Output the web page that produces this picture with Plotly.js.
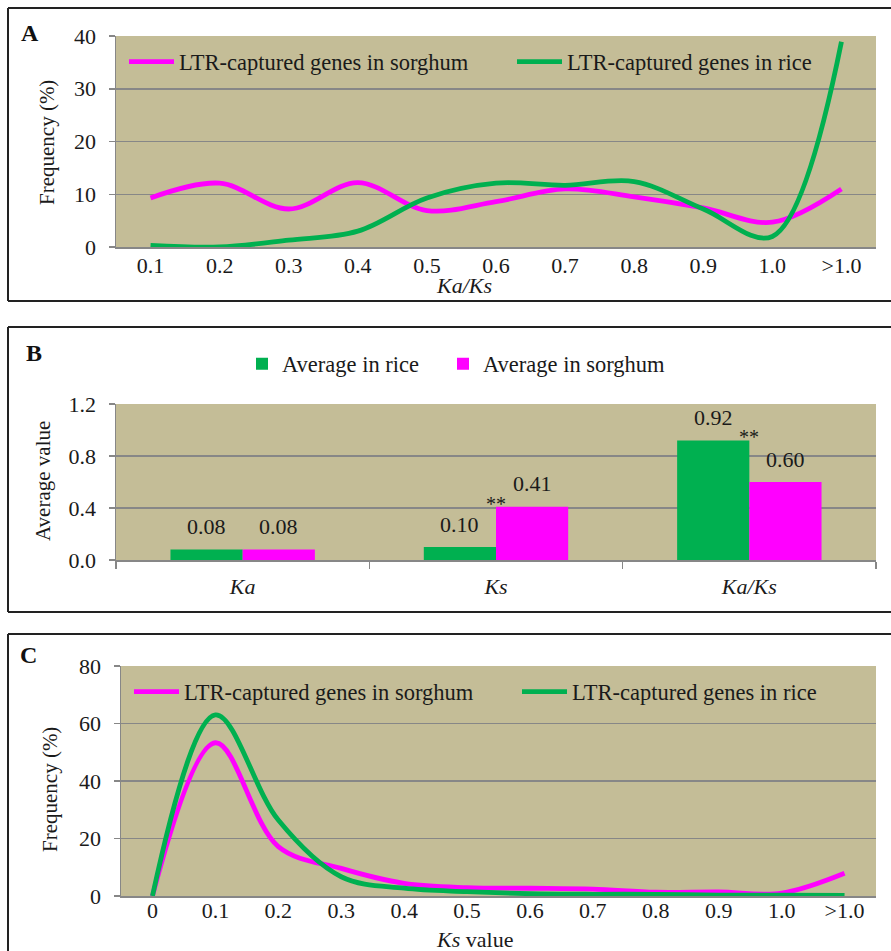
<!DOCTYPE html>
<html>
<head>
<meta charset="utf-8">
<script src="https://cdn.plot.ly/plotly-3.0.1.min.js"></script>
<style>html,body{margin:0;padding:0;background:#fff;}#chart{width:891px;height:951px;}</style>
</head>
<body>
<div id="chart"></div>
<script>
// ---------- Data ----------
// Panel A: Ka/Ks distribution (frequency, %)
const ratioCats = ['0.1','0.2','0.3','0.4','0.5','0.6','0.7','0.8','0.9','1.0','>1.0'];
const ratioSorghum = [9.3, 12.1, 7.2, 12.2, 6.9, 8.6, 11.0, 9.5, 7.4, 4.7, 11.0];
const ratioRice    = [0.3, 0.0, 1.3, 3.0, 9.3, 12.1, 11.7, 12.4, 7.2, 2.0, 38.9];

// Panel B: average values
const avgCats = ['Ka','Ks','Ka/Ks'];
const avgRice    = [0.08, 0.10, 0.92];
const avgSorghum = [0.08, 0.41, 0.60];
const sigMarks   = ['', '**', '**'];

// Panel C: Ks distribution (frequency, %)
const ksCats = ['0','0.1','0.2','0.3','0.4','0.5','0.6','0.7','0.8','0.9','1.0','>1.0'];
const ksSorghum = [0, 53.3, 17.2, 9.6, 4.4, 2.9, 2.7, 2.4, 1.3, 1.4, 1.0, 7.9];
const ksRice    = [0, 63.0, 26.4, 6.7, 2.7, 1.5, 0.8, 0.6, 0.6, 0.3, 0.3, 0.2];

const seriesNames = ['LTR-captured genes in sorghum', 'LTR-captured genes in rice'];
const avgNames = ['Average in rice', 'Average in sorghum'];

// ---------- Styling ----------
const W = 891, H = 951;
const px = x => x / W;
const py = y => 1 - y / H;
const MAGENTA = '#FF00FF', GREEN = '#00B050';
const GRID = '#878787', BG = '#C4BD97';
const FONT = '"Liberation Serif", "Times New Roman", Times, serif';
const TXT = '#1a1a1a';

const A_DOM = {x:[116,876], y:[36,247]};
const B_DOM = {x:[116,876], y:[404,560]};
const C_DOM = {x:[121,876], y:[666,896]};
const BARGAP = 0.43;

const lineW = 4.8;
const traces = [
  {type:'scatter', mode:'lines', x:ratioCats, y:ratioSorghum, name:seriesNames[0], xaxis:'x', yaxis:'y', legend:'legend',
   line:{color:MAGENTA, width:lineW, shape:'spline', smoothing:1}},
  {type:'scatter', mode:'lines', x:ratioCats, y:ratioRice, name:seriesNames[1], xaxis:'x', yaxis:'y', legend:'legend4',
   line:{color:GREEN, width:lineW, shape:'spline', smoothing:1}},
  {type:'bar', x:avgCats, y:avgRice, name:avgNames[0], xaxis:'x2', yaxis:'y2', legend:'legend2', marker:{color:GREEN}},
  {type:'bar', x:avgCats, y:avgSorghum, name:avgNames[1], xaxis:'x2', yaxis:'y2', legend:'legend6', marker:{color:MAGENTA}},
  {type:'scatter', mode:'lines', x:ksCats, y:ksSorghum, name:seriesNames[0], xaxis:'x3', yaxis:'y3', legend:'legend3',
   line:{color:MAGENTA, width:lineW, shape:'spline', smoothing:1}},
  {type:'scatter', mode:'lines', x:ksCats, y:ksRice, name:seriesNames[1], xaxis:'x3', yaxis:'y3', legend:'legend5',
   line:{color:GREEN, width:lineW, shape:'spline', smoothing:1}}
];

function xAxis(dom, anchor, extra){
  return Object.assign({domain:[px(dom.x[0]), px(dom.x[1])], anchor:anchor, type:'category',
    showline:true, linecolor:GRID, linewidth:1.5, showgrid:false, zeroline:false, ticks:'', ticklen:0,
    tickfont:{family:FONT, size:22, color:TXT}, fixedrange:true}, extra||{});
}
function yAxis(dom, anchor, extra){
  return Object.assign({domain:[py(dom.y[1]), py(dom.y[0])], anchor:anchor,
    showline:true, linecolor:GRID, linewidth:1.5, showgrid:true, gridcolor:GRID, gridwidth:1.5,
    zeroline:false, ticks:'outside', ticklen:6, tickcolor:GRID, tickwidth:1.5, ticklabelstandoff:8,
    tickfont:{family:FONT, size:22, color:TXT}, fixedrange:true}, extra||{});
}

const annotations = [];
function ann(o){ annotations.push(Object.assign({xref:'paper', yref:'paper', showarrow:false,
  xanchor:'center', yanchor:'middle', font:{family:FONT, size:22, color:TXT}}, o)); }

// panel letters
ann({x:px(30), y:py(33), text:'<b>A</b>', font:{family:FONT, size:24, color:'#111'}});
ann({x:px(34), y:py(353), text:'<b>B</b>', font:{family:FONT, size:24, color:'#111'}});
ann({x:px(29), y:py(655), text:'<b>C</b>', font:{family:FONT, size:24, color:'#111'}});
// axis titles
ann({x:px(47), y:py(143), text:'Frequency (%)', textangle:-90, font:{family:FONT, size:21, color:TXT}});
ann({x:px(464), y:py(285), text:'<i>Ka/Ks</i>', font:{family:FONT, size:22, color:TXT}});
ann({x:px(43), y:py(481), text:'Average value', textangle:-90, font:{family:FONT, size:21, color:TXT}});
ann({x:px(50), y:py(790), text:'Frequency (%)', textangle:-90, font:{family:FONT, size:21, color:TXT}});
ann({x:px(474), y:py(939), text:'<i>Ks</i> value', font:{family:FONT, size:22, color:TXT}});

// bar value labels (panel B)
const catPx = (B_DOM.x[1]-B_DOM.x[0]) / avgCats.length;
const barPx = catPx * (1 - BARGAP) / 2;
avgCats.forEach((c, i) => {
  annotations.push({xref:'x2', yref:'y2', x:c, y:avgRice[i], text:avgRice[i].toFixed(2), showarrow:false,
    xshift:-barPx/2, yshift:23, font:{family:FONT, size:22, color:TXT}});
  annotations.push({xref:'x2', yref:'y2', x:c, y:avgSorghum[i], text:avgSorghum[i].toFixed(2), showarrow:false,
    xshift:barPx/2, yshift:23, font:{family:FONT, size:22, color:TXT}});
  if (sigMarks[i]) {
    annotations.push({xref:'x2', yref:'y2', x:c, y:Math.max(avgRice[i], avgSorghum[i]), text:sigMarks[i], showarrow:false,
      xshift:0, yshift:3, font:{family:FONT, size:20, color:TXT}});
  }
});

// panel borders
const shapes = [];
function hline(y, x0, x1){ shapes.push({type:'line', xref:'paper', yref:'paper', x0:px(x0), x1:px(x1), y0:py(y), y1:py(y), line:{color:'#222', width:2}}); }
function vline(x, y0, y1){ shapes.push({type:'line', xref:'paper', yref:'paper', x0:px(x), x1:px(x), y0:py(y0), y1:py(y1), line:{color:'#222', width:2}}); }
hline(8, 8, 891); hline(301, 8, 891); vline(8, 8, 301);
hline(327, 8, 891); hline(612, 8, 891); vline(8, 327, 612);
hline(634, 8, 891); vline(8, 634, 951);

const legendBase = {orientation:'h', bgcolor:'rgba(0,0,0,0)', borderwidth:0,
  font:{family:FONT, size:22.5, color:TXT}, xanchor:'left', yanchor:'middle', itemclick:false, itemdoubleclick:false};

const layout = {
  width:W, height:H, margin:{l:0, r:0, t:0, b:0}, paper_bgcolor:'#ffffff', plot_bgcolor:BG,
  font:{family:FONT, size:22, color:TXT}, showlegend:true, barmode:'group', bargap:BARGAP, bargroupgap:0,
  xaxis: xAxis(A_DOM, 'y', {range:[-0.5, ratioCats.length-0.5], ticklabelstandoff:-2}),
  yaxis: yAxis(A_DOM, 'x', {range:[0,40], tick0:0, dtick:10}),
  xaxis2: xAxis(B_DOM, 'y2', {range:[-0.5, avgCats.length-0.5], ticks:'outside', tickson:'boundaries', ticklen:7,
    tickcolor:GRID, tickwidth:1.5, tickvals:avgCats, ticktext:avgCats.map(s => '<i>'+s+'</i>'), ticklabelstandoff:6}),
  yaxis2: yAxis(B_DOM, 'x2', {range:[0,1.2], tick0:0, dtick:0.4, tickformat:'.1f'}),
  xaxis3: xAxis(C_DOM, 'y3', {range:[-0.5, ksCats.length-0.5], ticklabelstandoff:-6}),
  yaxis3: yAxis(C_DOM, 'x3', {range:[0,80], tick0:0, dtick:20}),
  legend:  Object.assign({}, legendBase, {x:px(124), y:py(62), itemwidth:45}),
  legend4: Object.assign({}, legendBase, {x:px(512), y:py(62), itemwidth:45}),
  legend2: Object.assign({}, legendBase, {x:px(242), y:py(364)}),
  legend6: Object.assign({}, legendBase, {x:px(443), y:py(364)}),
  legend3: Object.assign({}, legendBase, {x:px(129), y:py(692), itemwidth:45}),
  legend5: Object.assign({}, legendBase, {x:px(517), y:py(692), itemwidth:45}),
  annotations: annotations,
  shapes: shapes
};

Plotly.newPlot('chart', traces, layout, {displayModeBar:false, staticPlot:true});
</script>
</body>
</html>
